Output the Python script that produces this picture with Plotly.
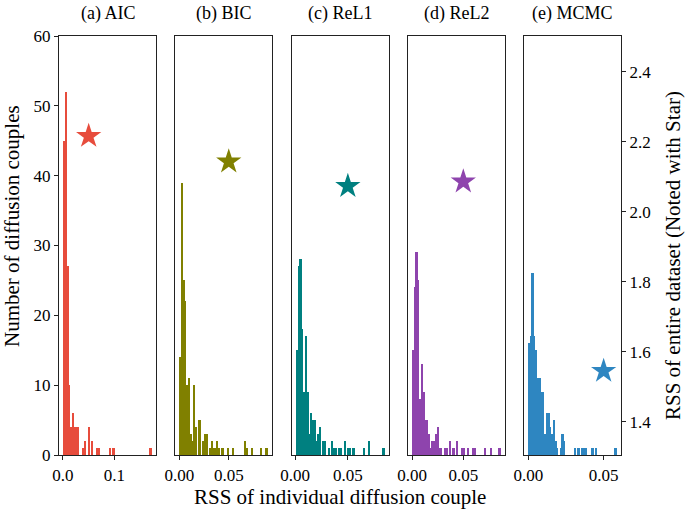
import plotly.graph_objects as go

# ---------------- data ----------------
panel_titles = ["(a) AIC", "(b) BIC", "(c) ReL1", "(d) ReL2", "(e) MCMC"]
colors = ["#E74C3C", "#808000", "#008080", "#8E44AD", "#2E86C1"]

# histogram data ranges (min / max RSS of individual couples), 50 bins each
rss_min = [0.001, 0.0004, 0.0007, 0.0, 0.0]
rss_max = [0.172, 0.0895, 0.0844, 0.0862, 0.0586]

counts_aic = [45, 52, 27, 10, 4, 6, 4, 4, 4, 0,
              0, 1, 2, 0, 4, 0, 2, 0, 0, 1,
              1, 0, 0, 0, 0, 0, 1, 0, 1, 0,
              0, 0, 0, 0, 0, 0, 0, 0, 0, 0,
              0, 0, 0, 0, 0, 0, 0, 0, 0, 1]
counts_bic = [14, 39, 25, 22, 10, 11, 3, 2, 10, 4,
              0, 5, 0, 2, 3, 3, 0, 1, 2, 1,
              1, 2, 1, 0, 1, 0, 0, 1, 0, 0,
              1, 0, 0, 0, 0, 0, 0, 2, 1, 0,
              0, 1, 0, 0, 0, 0, 1, 0, 0, 1]
counts_rel1 = [15, 27, 28, 18, 9, 17, 9, 3, 6, 5,
               5, 2, 3, 4, 0, 2, 2, 0, 1, 0,
               2, 1, 1, 0, 1, 1, 0, 2, 0, 1,
               1, 0, 1, 0, 0, 0, 0, 0, 1, 0,
               0, 2, 0, 0, 0, 0, 0, 0, 0, 1]
counts_rel2 = [15, 24, 29, 25, 8, 13, 9, 5, 5, 3,
               1, 2, 2, 3, 4, 1, 1, 0, 1, 1,
               0, 2, 0, 1, 0, 2, 0, 0, 1, 1,
               0, 1, 0, 0, 1, 1, 0, 0, 0, 0,
               0, 1, 0, 0, 1, 0, 0, 0, 0, 1]
counts_mcmc = [16, 17, 26, 17, 15, 11, 11, 9, 9, 3,
               6, 6, 4, 3, 5, 2, 1, 0, 1, 3,
               2, 0, 0, 0, 0, 0, 1, 0, 1, 0,
               1, 1, 1, 0, 0, 0, 1, 0, 1, 0,
               0, 0, 0, 0, 0, 0, 0, 0, 0, 1]
all_counts = [counts_aic, counts_bic, counts_rel1, counts_rel2, counts_mcmc]

star_x = [0.05, 0.05, 0.05, 0.05, 0.05]
star_rss = [2.216, 2.143, 2.073, 2.086, 1.545]

x_tickvals = [[0.0, 0.1], [0.0, 0.05], [0.0, 0.05], [0.0, 0.05], [0.0, 0.05]]
x_ticktext = [["0.0", "0.1"], ["0.00", "0.05"], ["0.00", "0.05"], ["0.00", "0.05"], ["0.00", "0.05"]]
left_ticks = [0, 10, 20, 30, 40, 50, 60]
right_ticks = [1.4, 1.6, 1.8, 2.0, 2.2, 2.4]
right_ticktext = ["1.4", "1.6", "1.8", "2.0", "2.2", "2.4"]

x_title = "RSS of individual diffusion couple"
y_left_title = "Number of diffusion couples"
y_right_title = "RSS of entire dataset (Noted with Star)"

# ---------------- layout ----------------
W, H = 685, 512
FONT = "Liberation Serif"
n_bins = 50
panel_left_px = [59, 175.25, 291.5, 407.75, 524]
panel_w_px = 97
top_px, bottom_px = 36, 455
LINE = "#222222"
TICKFONT = dict(family=FONT, size=17, color="black")
PANELFONT = dict(family=FONT, size=18, color="black")
AXTITLEFONT = dict(family=FONT, size=21, color="black")

fig = go.Figure()
layout = dict(
    width=W, height=H,
    margin=dict(l=0, r=0, t=0, b=0, autoexpand=False),
    paper_bgcolor="white", plot_bgcolor="white",
    showlegend=False, bargap=0,
    font=dict(family=FONT, size=17, color="black"),
)
ydom = [1 - bottom_px / H, 1 - top_px / H]

for i in range(5):
    k = "" if i == 0 else str(i + 1)
    xa = "x" + k
    ya = "y" + k
    rk = str(i + 6)
    lo, hi = rss_min[i], rss_max[i]
    span = hi - lo
    w = span / n_bins
    centers = [lo + (j + 0.5) * w for j in range(n_bins)]
    fig.add_trace(go.Bar(
        x=centers, y=all_counts[i], width=w,
        marker=dict(color=colors[i], line=dict(width=0)),
        xaxis=xa, yaxis=ya, hoverinfo="skip"))
    fig.add_trace(go.Scatter(
        x=[star_x[i]], y=[star_rss[i]], mode="markers",
        marker=dict(symbol="star", size=19, color=colors[i], line=dict(width=0)),
        xaxis=xa, yaxis="y" + rk))

    d0 = panel_left_px[i] / W
    d1 = (panel_left_px[i] + panel_w_px) / W
    layout["xaxis" + k] = dict(
        domain=[d0, d1], anchor=ya, automargin=False,
        range=[lo - 0.05 * span, hi + 0.05 * span],
        tickvals=x_tickvals[i], ticktext=x_ticktext[i],
        ticks="outside", ticklen=4, tickcolor=LINE, tickwidth=1,
        showline=True, mirror=True, linecolor=LINE, linewidth=1.2,
        showgrid=False, zeroline=False, tickfont=TICKFONT,
    )
    layout["yaxis" + k] = dict(
        domain=ydom, anchor=xa, range=[0, 60], automargin=False,
        tickvals=left_ticks,
        ticks="outside" if i == 0 else "", ticklen=4, tickcolor=LINE, tickwidth=1,
        showticklabels=(i == 0),
        showline=True, mirror=True, linecolor=LINE, linewidth=1.2,
        showgrid=False, zeroline=False, tickfont=TICKFONT,
    )
    layout["yaxis" + rk] = dict(
        overlaying=ya, anchor=xa, side="right", automargin=False,
        range=[1.305, 2.502],
        tickvals=right_ticks, ticktext=right_ticktext,
        ticks="outside" if i == 4 else "", ticklen=4, tickcolor=LINE, tickwidth=1,
        showticklabels=(i == 4),
        showline=False, showgrid=False, zeroline=False, tickfont=TICKFONT,
    )

annotations = []
for i in range(5):
    cx = (panel_left_px[i] + panel_w_px / 2) / W
    annotations.append(dict(
        text=panel_titles[i], x=cx, y=1 - 13 / H, xref="paper", yref="paper",
        showarrow=False, xanchor="center", yanchor="middle", font=PANELFONT))
annotations.append(dict(
    text=x_title, x=(panel_left_px[0] + panel_left_px[4] + panel_w_px) / 2 / W,
    y=1 - 497 / H, xref="paper", yref="paper", showarrow=False,
    xanchor="center", yanchor="middle", font=AXTITLEFONT))
annotations.append(dict(
    text=y_left_title, x=12 / W, y=1 - 226 / H,
    xref="paper", yref="paper", showarrow=False, textangle=-90,
    xanchor="center", yanchor="middle", font=AXTITLEFONT))
annotations.append(dict(
    text=y_right_title, x=673 / W, y=1 - 256 / H,
    xref="paper", yref="paper", showarrow=False, textangle=-90,
    xanchor="center", yanchor="middle", font=AXTITLEFONT))
layout["annotations"] = annotations

fig.update_layout(**layout)
fig.write_html(
    "out.html",
    config={"displayModeBar": False},
    post_script="document.body.style.margin='0';document.body.style.overflow='hidden';",
)
